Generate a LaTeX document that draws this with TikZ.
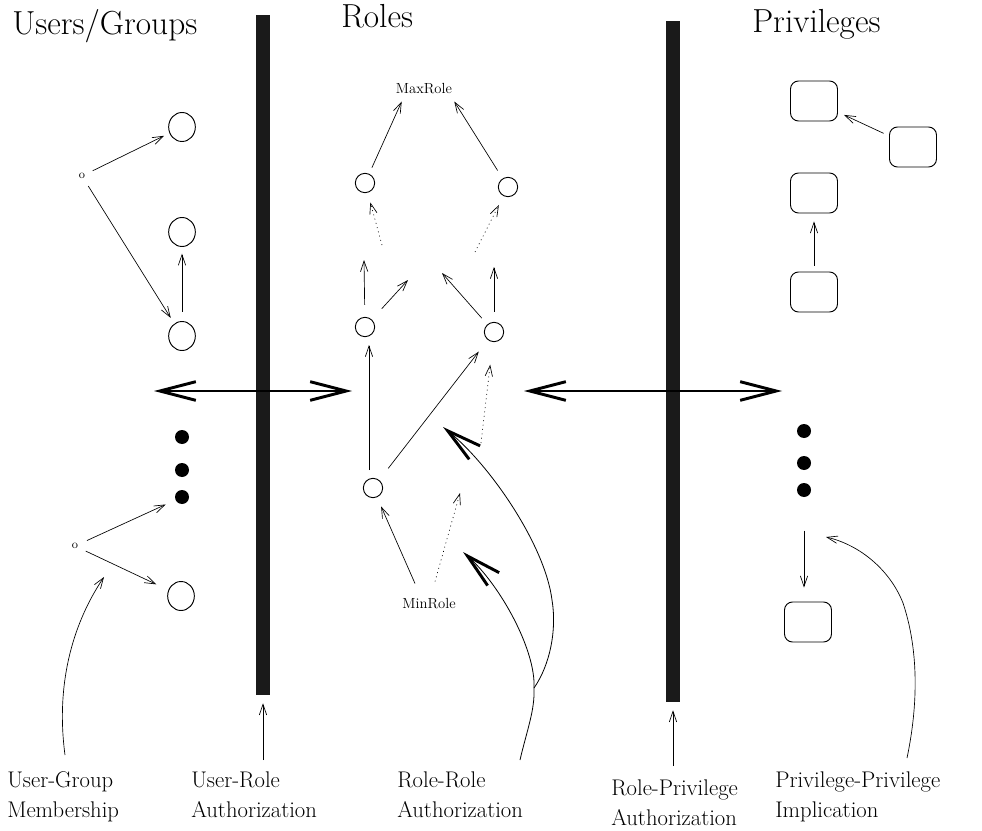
\documentclass[tikz,border=0pt]{standalone}
\usetikzlibrary{arrows.meta,shapes.geometric,calc}
\definecolor{barcol}{HTML}{1A1A1A}
\begin{document}
\begin{tikzpicture}[x=0.75pt,y=-0.75pt,
 ucirc/.style={ellipse, draw, line width=0.7pt, minimum width=20pt, minimum height=21.75pt, inner sep=0pt},
 rcirc/.style={circle, draw, line width=0.7pt, minimum size=14.5pt, inner sep=0pt},
 bigdot/.style={circle, fill=black, minimum size=10.5pt, inner sep=0pt},
 pbox/.style={draw, rounded corners=6pt, line width=0.7pt, minimum width=35.25pt, minimum height=30pt, inner sep=0pt},
 bar/.style={fill=barcol, inner sep=0pt, minimum width=10.5pt},
 arr/.style={line width=0.5pt, -{Straight Barb[length=8pt,width=5.5pt]}},
 darr/.style={arr, dash pattern=on 0.7pt off 2.6pt},
 bigarr/.style={line width=2.2pt, {Straight Barb[length=27pt,width=14pt]}-{Straight Barb[length=27pt,width=14pt]}},
 curvarr/.style={line width=0.6pt, -{Straight Barb[length=26pt,width=13pt,line width=2.2pt]}},
 title/.style={font=\fontsize{25}{30}\selectfont, anchor=base west, inner sep=0pt},
 lab/.style={font=\fontsize{17}{23}\selectfont, align=left, anchor=north west, inner sep=0pt},
 small/.style={font=\fontsize{11}{12}\selectfont, inner sep=1.5pt},
 tinyo/.style={font=\fontsize{9}{10}\selectfont, inner sep=1pt}
]
\useasboundingbox (0,0) rectangle (982,831);

% titles
\node[title] (tug) at (12,35) {Users/Groups};
\node[title] (trl) at (341,28) {Roles};
\node[title] (tpr) at (752,33) {Privileges};

% bars
\node[bar, minimum height=510pt] (bar1) at (263,355) {};
\node[bar, minimum height=510.75pt] (bar2) at (673,361.5) {};

% users / groups
\node[tinyo] (og1) at (82,176) {o};
\node[ucirc] (u1) at (182,127) {};
\node[ucirc] (u2) at (182,232) {};
\node[ucirc] (u3) at (182,336) {};
\node[bigdot] (d1) at (182,437) {};
\node[bigdot] (d2) at (182,470) {};
\node[bigdot] (d3) at (182,497) {};
\node[tinyo] (og2) at (75,546) {o};
\node[ucirc] (u4) at (181,596) {};

\draw[arr, shorten <=5pt, shorten >=4.5pt] (og1) -- (u1);
\draw[arr, shorten <=5pt, shorten >=5pt] (og1) -- (u3);
\draw[arr, shorten <=7pt, shorten >=5pt] (u3) -- (u2);
\draw[arr, shorten <=6pt, shorten >=8pt] (og2) -- (d3);
\draw[arr, shorten <=5pt, shorten >=10pt] (og2) -- (u4);

% roles
\node[small] (maxrole) at (424,89) {MaxRole};
\node[rcirc] (r1) at (365,183) {};
\node[rcirc] (r2) at (508,187) {};
\node[rcirc] (r3) at (365,327) {};
\node[rcirc] (r4) at (494,332) {};
\node[rcirc] (r5) at (373,488) {};
\node[small] (minrole) at (429,604) {MinRole};

\coordinate (f1) at (382,245);
\coordinate (f2) at (475,252);
\coordinate (f3) at (364,260);
\coordinate (f4) at (408,280);
\coordinate (f5) at (442,273);
\coordinate (f6) at (494,267);
\coordinate (f7) at (481,443);
\coordinate (f8) at (460,493);

\draw[arr, shorten <=5pt] (r1) -- ($(maxrole.south west)+(8,5)$);
\draw[arr, shorten <=7pt] (r2) -- ($(maxrole.south east)+(0,5)$);
\draw[darr, shorten >=7.5pt] (f1) -- (r1);
\draw[darr, shorten >=7.5pt] (f2) -- (r2);
\draw[arr, shorten <=9pt] (r3) -- (f3);
\draw[arr, shorten <=11pt] (r3) -- (f4);
\draw[arr, shorten <=6.3pt] (r4) -- (f5);
\draw[arr, shorten <=7.5pt] (r4) -- (f6);
\draw[arr, shorten <=13.5pt, shorten >=13.5pt] ($(r5)+(-4,0)$) -- ($(r3)+(4,0)$);
\draw[arr, shorten <=11pt, shorten >=11pt] (r5) -- (r4);
\draw[darr, shorten >=17pt] (f7) -- (r4);
\draw[arr, shorten >=7.5pt] ($(minrole.north)+(-14,-13)$) -- (r5);
\draw[darr] ($(minrole.north)+(6,-15)$) -- (f8);

% privileges
\node[pbox] (p1) at (814,101) {};
\node[pbox] (p2) at (913,147) {};
\node[pbox] (p3) at (814,193) {};
\node[pbox] (p4) at (814,292) {};
\node[bigdot] (pd1) at (804,431) {};
\node[bigdot] (pd2) at (804,463) {};
\node[bigdot] (pd3) at (804,490) {};
\node[pbox] (p5) at (808,622) {};

\draw[arr, shorten <=4.5pt, shorten >=5pt] (p2) -- (p1);
\draw[arr, shorten <=4.5pt, shorten >=6pt] (p4) -- (p3);
\draw[arr, shorten <=25pt, shorten >=10.5pt] (pd3) -- (pd3 |- p5.north);

% double arrows
\coordinate (la1) at (154,391);
\coordinate (la2) at (352,391);
\coordinate (ra1) at (524,391);
\coordinate (ra2) at (782,391);
\draw[bigarr] (la1) -- (la2);
\draw[bigarr] (ra1) -- (ra2);

% bottom labels
\node[lab] (ug) at (7,771) {User-Group\\Membership};
\node[lab] (ur) at (191,771) {User-Role\\Authorization};
\node[lab] (rr) at (397,771) {Role-Role\\Authorization};
\node[lab] (rp) at (611,779) {Role-Privilege\\Authorization};
\node[lab] (pp) at (775,771) {Privilege-Privilege\\Implication};

\coordinate (ugs) at (65,755);
\coordinate (ugt) at (104,577);
\coordinate (urs) at (263,760);
\coordinate (rrs) at (520,760);
\coordinate (rrj) at (534,688);
\coordinate (rrA) at (443,427);
\coordinate (rrB) at (463,552);
\coordinate (rps) at (673,766);
\coordinate (pps) at (907,758);
\coordinate (ppt) at (826,537);

\draw[arr] (ugs) .. controls (55,680) and (75,620) .. (ugt);
\draw[arr, shorten >=6pt] (urs) -- (urs |- bar1.south);
\draw[arr, shorten >=6pt] (rps) -- (rps |- bar2.south);
\draw[line width=0.6pt] (rrs) .. controls (527,730) and (535,710) .. (rrj);
\draw[curvarr] (rrj) .. controls (536,650) and (500,585) .. (rrB);
\draw[curvarr] (rrj) .. controls (550,665) and (557,630) .. (552,600) .. controls (545,545) and (490,465) .. (rrA);
\draw[arr] (pps) .. controls (915,720) and (922,660) .. (903,603) .. controls (890,570) and (860,545) .. (ppt);
\end{tikzpicture}
\end{document}
